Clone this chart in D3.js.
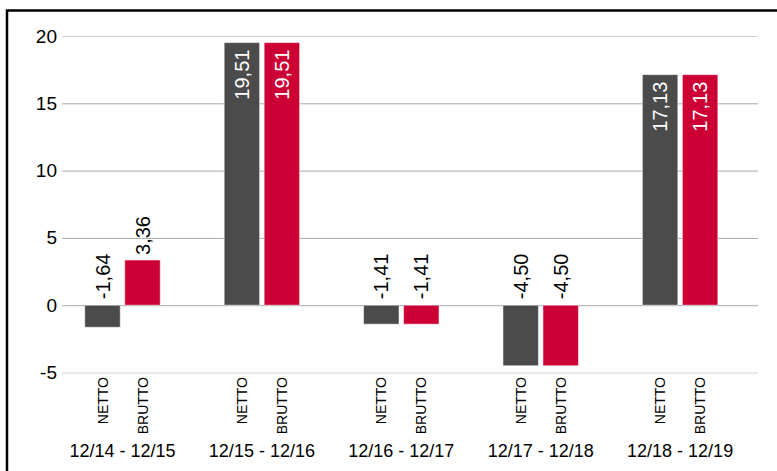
<!DOCTYPE html>
<html><head><meta charset="utf-8">
<script src="https://cdn.jsdelivr.net/npm/d3@7"></script>
<style>body{margin:0;background:#fff}svg{display:block;font-family:"Liberation Sans",Arial,Helvetica,sans-serif}</style>
</head><body><svg width="777" height="471"></svg>
<script>
const categories = ["12/14 - 12/15","12/15 - 12/16","12/16 - 12/17","12/17 - 12/18","12/18 - 12/19"];
const series = ["NETTO","BRUTTO"];
const netto = [-1.64, 19.51, -1.41, -4.50, 17.13];
const brutto = [3.36, 19.51, -1.41, -4.50, 17.13];
const yTicks = [-5, 0, 5, 10, 15, 20];
const colors = {NETTO:"#4b4b4b", BRUTTO:"#cc0035"};

const svg = d3.select("svg");
svg.append("rect").attr("x",7).attr("y",10.5).attr("width",900).attr("height",600)
  .attr("fill","none").attr("stroke","#000").attr("stroke-width",2.5);

const y = d3.scaleLinear().domain([-5,20]).range([372.5,36]);
const x0 = d3.scaleBand().domain(categories).range([52.8,749.8]).padding(0);
const x1 = d3.scaleBand().domain(series).range([0,75.5]).paddingInner(0.1125).paddingOuter(0);
const fmt = v => v.toFixed(2).replace(".",",");

// grid
const ax = d3.axisLeft(y).tickValues(yTicks).tickSize(-696).tickPadding(5).tickFormat(d => String(d));
const g = svg.append("g").attr("transform","translate(62,0)").call(ax);
g.select(".domain").remove();
g.selectAll(".tick line").attr("stroke", d => (d===20||d===-5) ? "#d2d2d2" : "#a8a8a8").attr("stroke-width",1);
g.selectAll(".tick text").attr("font-size",19).attr("fill","#000").attr("font-family","Liberation Sans, Arial, sans-serif");

const data = categories.map((c,i)=>({cat:c, vals:[{s:"NETTO",v:netto[i]},{s:"BRUTTO",v:brutto[i]}]}));
const grp = svg.selectAll(".grp").data(data).enter().append("g")
  .attr("transform", d => `translate(${x0(d.cat)+x0.bandwidth()/2-37.75},0)`);

grp.selectAll("rect").data(d=>d.vals).enter().append("rect")
  .attr("x", d=>x1(d.s)).attr("width", x1.bandwidth())
  .attr("y", d=>y(Math.max(0,d.v))).attr("height", d=>Math.abs(y(d.v)-y(0)))
  .attr("fill", d=>colors[d.s]).attr("stroke","rgba(255,255,255,0.55)").attr("stroke-width",1);

grp.selectAll(".val").data(d=>d.vals).enter().append("text")
  .attr("transform", d=>{
    const cx = x1(d.s)+x1.bandwidth()/2;
    let yy;
    if (d.v < 0) yy = y(0)-6;
    else if (d.v > 10) yy = y(d.v)+7;
    else yy = y(d.v)-5;
    return `translate(${cx},${yy}) rotate(-90)`;
  })
  .attr("text-anchor", d=> d.v>10 ? "end" : "start")
  .attr("dominant-baseline","central")
  .attr("font-size",20)
  .attr("fill", d=> d.v>10 ? "#fff" : "#000")
  .text(d=>fmt(d.v));

grp.selectAll(".ser").data(d=>d.vals).enter().append("text")
  .attr("transform", d=>`translate(${x1(d.s)+x1.bandwidth()/2},377) rotate(-90)`)
  .attr("text-anchor","end").attr("dominant-baseline","central")
  .attr("font-size",14).attr("fill","#000")
  .text(d=>d.s);

grp.append("text").attr("x",37.75).attr("y",457).attr("text-anchor","middle")
  .attr("font-size",18).attr("fill","#000").text(d=>d.cat);
</script></body></html>
